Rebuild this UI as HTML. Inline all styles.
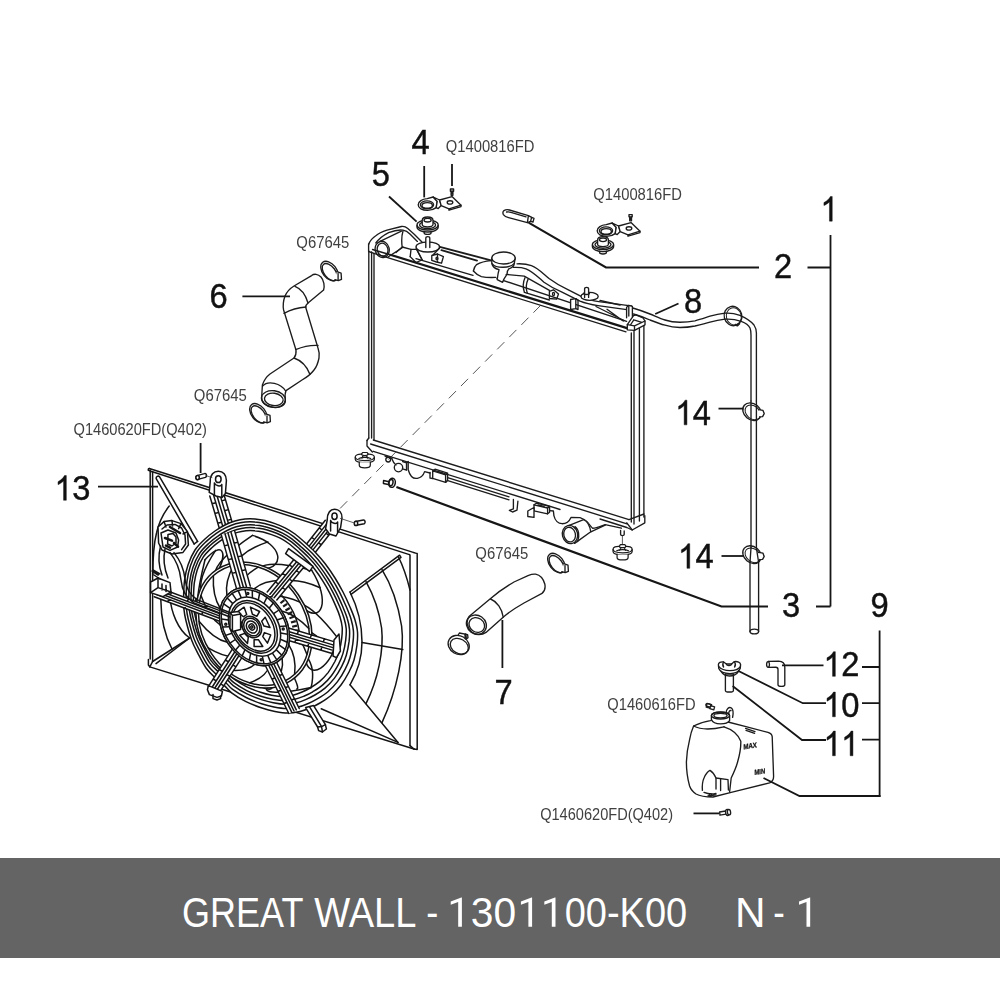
<!DOCTYPE html>
<html><head><meta charset="utf-8"><title>GREAT WALL - 1301100-K00</title>
<style>
html,body{margin:0;padding:0;background:#fff;}
body{width:1000px;height:1000px;position:relative;overflow:hidden;font-family:"Liberation Sans",sans-serif;}
#dia{position:absolute;left:0;top:0;width:1000px;height:858px;filter:grayscale(1);}
#bar{position:absolute;left:0;top:858px;width:1000px;height:100px;background:#646464;}
#bar span{position:absolute;top:0;height:100px;line-height:100px;color:#fff;font-size:41px;white-space:pre;transform-origin:0 50%;}
svg text{font-family:"Liberation Sans",sans-serif;}
.n{font-size:35.7px;fill:#111;stroke:#111;stroke-width:0.45;}
.q{font-size:16px;fill:#404040;}
.l{stroke:#161616;stroke-width:1.8;fill:none;stroke-linecap:butt;}
.p{stroke:#1c1c1c;stroke-width:1.35;fill:none;stroke-linejoin:round;stroke-linecap:round;}
.pw{stroke:#1c1c1c;stroke-width:1.35;fill:#fff;stroke-linejoin:round;stroke-linecap:round;}
.fan .p,.fan .pw{stroke-width:1.5;stroke:#141414;}
.t{stroke:#333;stroke-width:0.8;fill:none;stroke-linejoin:round;stroke-linecap:round;}
.k{stroke:#161616;stroke-width:2.3;fill:none;stroke-linejoin:round;stroke-linecap:round;}
</style></head>
<body>
<svg id="dia" width="1000" height="858" viewBox="0 0 1000 858">
<path d="M540.6 305.4L336.6 512" stroke="#555" stroke-width="1" stroke-dasharray="10.2 7" fill="none"/>

<!-- ===== RADIATOR ===== -->
<g class="p">
<!-- left frame -->
<path d="M368.8 251V438M371.6 252V438M374 254V440"/>
<path d="M368.6 243.8V251.5L374 253.4"/>
<!-- top frame lines -->
<path class="k" d="M391 255L627 328.2"/>
<path d="M374 253.4L626 331.8"/>
<path d="M372.5 249.5L391 255"/>
<path d="M497 278.4L626.6 321.4"/>
<path d="M416 258.6L473 275.4"/>
<!-- right frame -->
<path d="M631.3 333V522M634 331V524M639.4 328V521M643.9 324V517"/>
<!-- top-right corner block -->
<path class="pw" d="M627.3 324.6L633.5 315.6L636 314.8L643 318L645 321V324.8L634.5 330.4L627.3 329.8Z"/>
<path d="M627.3 324.6L634.5 325.8L645 321M634.5 325.8V330.4M633.8 319.8L641.8 322.4M633.8 319.8L630.4 325"/>
<!-- bottom frame -->
<path d="M373.3 440L629 519.6"/>
<path d="M370.6 444L627 523.8"/>
<path d="M373.3 451.3L560 509.5"/>
<path d="M367 440.5V446L372.4 452"/>
<path d="M368.8 438L367 440.5"/>
<!-- bottom-right corner block -->
<path d="M626.8 522.8L632.2 530L644.8 522.8V515.6"/>
<path d="M629 519.6L644 514"/>
<path d="M600 519L626.8 527.5L632.2 530"/>
</g>

<!-- ===== TOP TANK ===== -->
<g class="p">
<!-- left inlet housing outer contour -->
<path d="M368.6 244.6C370 240 372.5 238 375.8 235.8C379 233 383 231.5 387 230.2L401.4 226.5C404 226 406 227 407.8 228.6L414.2 234.2L422.2 242.2"/>
<path d="M375.8 243C379 238.5 384 235 388.6 232.6C394 230.6 399 229.6 403 230.2C406 230.6 408 232 410.2 234.2L417.4 241.4"/>
<!-- inlet pipe -->
<ellipse cx="382.2" cy="249.4" rx="7" ry="8.2" transform="rotate(-15 382.2 249.4)"/>
<ellipse cx="382.6" cy="249.6" rx="5.3" ry="6.5" transform="rotate(-15 382.6 249.6)"/>
<path d="M380 241.3L401.4 231.2M388 257L403 247.2"/>
<path d="M403 231C401.5 236 401.5 242 402.2 247L411 249.4L410.2 256.6"/>
<path d="M402.2 247L396 252.5M411 249.4L416.6 249.4L422.2 259.8"/>
<path d="M410.2 256.6L416 262.5L422.2 259.8"/>
<!-- left mounting pin & base -->
<path class="pw" d="M416 247a11.8 5 0 0 0 23.6 0a11.8 5 0 0 0 -23.6 0z"/>
<path class="pw" d="M425.8 247.5V238.2a2 1.6 0 0 1 4 0V247.5"/>
<path d="M416.3 248.5L421.5 258.8M439.4 248.2L433 255"/>
<!-- small bracket -->
<path d="M431.8 255.5L437.5 254L443.4 256.6L441.5 263.2L436.5 262L431.8 260.4Z"/>
<path d="M437.5 254V262M436 258.5a1 1.4 0 1 0 2 0a1 1.4 0 1 0 -2 0"/>
<!-- tank top back edges -->
<path stroke-width="1.9" d="M439.8 246.8L491 260.4M441.4 250.2L477 260.6"/>
<!-- bulge near filler -->
<path d="M473.4 271C474 268 475 266 476.6 264.6C481 262 486 261 491 260.6"/>
<path d="M473.4 271C476 274 478.5 275.6 481.4 276.6C486 277.6 491 277.6 495.8 277.4"/>
<!-- filler cap -->
<path class="pw" d="M491.8 258V263.5C492.5 266.5 495.5 268.8 499 269.7C498 273 497.6 276.5 497.2 279.6L502.6 282.3C503.5 279 505.5 276.5 507.1 274.2C507 272 507.5 270.3 508.9 268.8C512 267.6 514.3 265.6 514.3 263.4L515.2 258"/>
<ellipse class="pw" cx="503.5" cy="258" rx="11.7" ry="6"/>
<path d="M492.3 263.8C496 268.5 510 268.5 514.4 263.4"/>
<!-- tank cylinder between filler and right pin -->
<path d="M506.2 274.4L524.2 276.2L549.4 290.4"/>
<path d="M525 277.8C523 282 523 288 524.4 292.4M528 279.4C526 283.6 526 289.2 527.4 293.4"/>
<path d="M524.4 292.4L549.4 300"/>
<!-- bracket 2 -->
<path d="M549.4 291.3L553.5 289.8L558.5 294L556.6 299.2L549.4 298.5Z"/>
<path d="M552.5 294a1 1.6 0 1 0 2 0a1 1.6 0 1 0 -2 0"/>
<!-- overflow tube over the tank -->
<path class="pw" d="M513.4 267.4C518 267.2 522 267.4 526 268.8C533 271.6 538 277 544 282.3C550 286.6 556 289.6 562 292.2L580 301.2C586 303.6 592 304.8 598 305.7L625 309.3L632 310.2L631.5 306L625 305.2L598.8 301.6C593 300.7 588 299.6 583.6 297.6L567.4 289.3C561 286.5 555 283 549.4 278.8C543 273.6 538 268 531.4 265.6C526.5 263.8 521.5 263.6 517 263.8"/>
<!-- right mounting pin & base -->
<path class="pw" d="M581 296.4a8.6 4 0 0 0 17.2 0a8.6 4 0 0 0 -17.2 0z"/>
<path class="pw" d="M584.6 297.4V289a2 1.6 0 0 1 4 0V297.4"/>
<path d="M583.5 293.2a3 1.3 0 0 0 6 0"/>
<!-- tube clip -->
<path class="pw" d="M570.6 299.5L575.8 298.6V308.6L570.6 309.5Z"/>
<path d="M575.8 298.6L578 300V309.6L575.8 308.6"/>
<!-- gusset at right end -->
<path d="M596 306.5L624 320.5M607 309.3L623.2 321M600 300.5L620 305"/>
<!-- right end clip post -->
<path class="pw" d="M626.6 317.8V307.2L628.8 305.4L632.4 306.4V317"/>
<path d="M628.8 305.4V316"/>
</g>

<!-- ===== OVERFLOW TUBE (8) + CLAMPS (14) ===== -->
<g class="p">
<path d="M632.8 308C639 309.8 644.5 311.8 650 314C655 316 660 318.4 665 320C670 321.6 675 322.2 680 322.2C685 322.2 690 321.8 695 320.8C700 319.6 705 317.8 710 316.2C715 314.8 720 313.8 725 313.2C730 312.8 735 313.6 740 315.4C746 318 751 321.4 754 325C755.6 327.4 756.4 330 756.4 333V401"/>
<path d="M633.5 314C639 315.6 644.5 317.6 650 320C655 322 660 324 665 325.2C670 326.8 675 327.5 680 327.5C685 327.5 690 327 695 326C700 324.8 705 323.6 710 322.2C715 320.8 720 319.8 725 319.2C731 318.8 736 319.6 741.2 321.4C745 322.8 748.6 325 750 328C750.8 330 751 332 751 335V401"/>
<ellipse cx="733" cy="316" rx="8.8" ry="9.8" transform="rotate(-15 733 316)"/>
<ellipse cx="733.8" cy="316.4" rx="7.4" ry="8.6" transform="rotate(-15 733.8 316.4)" stroke-width="1"/>
<path d="M735.4 324.6L737.4 325.6L739.4 323.6" stroke-width="1.8"/>
<path d="M751 401V548M756.4 401V548"/>
<path d="M750 562V631.5M758.6 562V631.5"/>
<path d="M751 548L750 562M756.4 548L758.6 562"/>
<ellipse cx="754.3" cy="631.5" rx="4.3" ry="2.4"/>
<!-- clamp 14 upper (transparent ring) -->
<ellipse cx="752" cy="411.7" rx="10" ry="8" transform="rotate(40 752 411.7)"/>
<ellipse cx="752.8" cy="412.4" rx="8.6" ry="6.4" transform="rotate(40 752.8 412.4)" stroke-width="1"/>
<path class="pw" d="M758.6 409.6L763 410.4L764.2 413.6L762.6 416.6L759.6 416.8"/>
<!-- clamp 14 lower -->
<ellipse cx="752" cy="554.6" rx="10" ry="8" transform="rotate(40 752 554.6)"/>
<ellipse cx="752.8" cy="555.3" rx="8.6" ry="6.4" transform="rotate(40 752.8 555.3)" stroke-width="1"/>
<path class="pw" d="M758.6 552.4L763 553.2L764.2 556.4L762.6 559.4L759.6 559.6"/>
</g>

<!-- ===== BOTTOM TANK DETAILS ===== -->
<g class="p">
<circle cx="388.2" cy="459.6" r="2.4"/>
<path d="M385 456L392 458.5"/>
<circle cx="398.5" cy="467.6" r="4.2"/>
<path d="M392 459C393 462 394.5 464 396 465"/>
<path d="M402.6 461.5L406.5 462.8V470.2L402.6 468.8M406.5 462.8L408.2 461.5V469.5"/>
<path d="M408.4 470.2C410 476 413.5 479 417.4 478.3C421.5 477.6 423.6 474.6 424.6 471.6L430 473"/>
<!-- connector box 1 -->
<path class="pw" d="M432.7 470.8L445.6 474.8V482.4L432.7 478.4Z"/>
<path d="M432.7 470.8L435 469.2L447.6 473.2L445.6 474.8M447.6 473.2V480.6L445.6 482.4"/>
<path d="M430 472.5V478L432.7 478.6"/>
<path d="M437 471.4L442.6 473.2"/>
<!-- rails between -->
<path d="M447.6 477.6L509 496.8M447 480.4L509 499.8"/>
<!-- hook -->
<path class="pw" d="M513.4 499.4V508.8L509.4 510.4L512.5 512L517 510.2L517.9 501.2"/>
<!-- connector box 2 -->
<path class="pw" d="M534 504.8L547.6 508V513.8L534 510.8Z"/>
<path d="M534 504.8L536.4 503.2L549.6 506.4L547.6 508M549.6 506.4V512.2L547.6 513.8"/>
<path class="pw" d="M527.8 511L534 507.5V510.8L534 517.4L527.8 516.5Z"/>
<path d="M538 505L544 506.4"/>
<!-- wavy lower contour right -->
<path d="M549.6 510.6L553.4 511L553.9 515.6C555 520.5 558.4 523.6 562 523.7C566.5 523.7 569.6 520.6 571 517.4L580 517.6C583 518.6 585.6 520.2 587.2 522C589.4 524.4 591 527 592.6 528.2C597 528.2 601 526 605.2 524.6L621.4 528.2"/>
<!-- outlet pipe -->
<path class="pw" d="M568.6 525.6L583.6 519.6C587 521 589.6 524 590.8 531.8L574.6 543.4Z"/>
<ellipse class="pw" cx="570" cy="534.5" rx="7.6" ry="9.2" transform="rotate(-14 570 534.5)"/>
<ellipse cx="569.6" cy="534.6" rx="5.8" ry="7.4" transform="rotate(-14 569.6 534.6)"/>
<path d="M575 526.6C578.6 529 580 536 577.6 541.6"/>
<path d="M590.8 531.8L605.2 525.2"/>
<!-- right mount pin -->
<path d="M620.6 530.5V534.6a1.8 1 0 0 0 3.6 0V531"/>
<path class="t" d="M622.4 536V546"/>
</g>
<!-- ===== GROMMETS / MOUNTS ===== -->
<defs>
<g id="grom">
 <!-- flanged grommet with dome, centered at 0,0 -->
 <path class="pw" stroke-width="1.6" d="M-10.6 0a10.6 5 0 0 0 21.2 0a10.6 5 0 0 0 -21.2 0z"/>
 <path class="p" d="M-10.6 0.6V2a10.6 5 0 0 0 21.2 0V0.6"/>
 <ellipse class="p" cx="0" cy="0" rx="8" ry="3.6"/>
 <path class="pw" stroke-width="1.6" d="M-5.4 -0.4V-4.6C-5.4 -6.8 -3 -8 0 -8C3 -8 5.4 -6.8 5.4 -4.6V-0.4a5.4 2.4 0 0 1 -10.8 0z"/>
 <ellipse class="p" cx="0" cy="-4.8" rx="3.6" ry="1.8"/>
 <path class="p" d="M-3.4 6.6V8a3.4 1.4 0 0 0 6.8 0V6.6"/>
</g>
<g id="grom2">
 <!-- bottom grommet: cross-top cap + cup -->
 <path class="pw" d="M-10.4 -1.2C-10.4 -3.6 -7 -4.6 -3.6 -4.4L-2.4 -6.2H2.6L3.6 -4.4C7 -4.6 10.4 -3.6 10.4 -1.2C10.4 1.4 6 2.6 0 2.6C-6 2.6 -10.4 1.4 -10.4 -1.2Z"/>
 <path class="p" d="M-10.4 -0.8V1.2C-10.4 3.6 -6 4.8 0 4.8C6 4.8 10.4 3.6 10.4 1.2V-0.8"/>
 <path class="p" stroke-width="1.8" d="M-3.6 -4.4C-3.2 -2.4 3.2 -2.4 3.6 -4.4M-6.4 0.4C-3 -1.4 3 -1.4 6.4 0.4M-2 -2.6L-3 0M2 -2.6L3 0"/>
 <path class="pw" d="M-6 4.4V7.6C-6 9.6 -3 10.4 0 10.4C3 10.4 6 9.6 6 7.6V4.4"/>
</g>
<g id="brk">
 <!-- bracket (item 4): ring on left, bent plate on right. origin = ring center -->
 <path class="pw" stroke-width="1.6" d="M-9.4 0.8C-9.4 -2.6 -5.4 -5 -0.4 -5.4L5.6 -7L9.6 -2.6L8.6 3.6C6 5.6 3 6.4 0 6.4C-5.4 6.4 -9.4 4.2 -9.4 0.8Z"/>
 <ellipse class="p" stroke-width="1.6" cx="-0.6" cy="0.8" rx="6.6" ry="4"/>
 <ellipse class="p" cx="-0.4" cy="1.4" rx="5.2" ry="2.8"/>
 <path class="pw" d="M5.6 -7L12 -4L13.6 1.6L10.6 4.6L8.6 3.6L9.6 -2.6Z"/>
 <path class="pw" stroke-width="1.6" d="M12 -4L24.4 -7.4L33.4 1.2L21.4 4.8L13.6 1.6Z"/>
 <ellipse class="p" cx="22.4" cy="-1.6" rx="2.8" ry="1.7"/>
 <path class="p" d="M21.4 4.8V6.2L33.4 2.6V1.2"/>
</g>
<g id="bolt">
 <!-- tiny vertical bolt, origin = head top centre -->
 <path class="pw" d="M-1.6 0H1.6V2.2H-1.6Z"/>
 <path class="p" d="M-0.9 2.2V6.2H0.9V2.2M-0.9 3.4H0.9M-0.9 4.6H0.9"/>
</g>
</defs>
<use href="#grom" x="427.6" y="225"/>
<use href="#grom" x="603" y="244.6"/>
<g transform="translate(364.8 458.2) scale(.92)"><use href="#grom2"/></g>
<g transform="translate(622.6 550.4) scale(.92)"><use href="#grom2"/></g>
<use href="#brk" x="427.6" y="204"/>
<use href="#brk" x="606.6" y="230"/>
<use href="#bolt" x="452" y="189"/>
<use href="#bolt" x="630.6" y="214.6"/>
<!-- item 2: short hose piece -->
<g class="p" transform="translate(0 2)">
<path class="pw" d="M504 208.6C505.6 207.6 507.4 207.4 509.4 208L528.4 213.6L531.6 215.4L530.6 219.4L527.4 220.6L508.6 215.6C506 215 504.4 214 503.4 212.6C502.6 211 502.8 209.6 504 208.6Z"/>
<path d="M506.6 210C508 209.6 509.4 209.8 511 210.4L526 214.8"/>
<path d="M528.4 213.6L527.4 220.6M531.6 215.4L534 216.4L533 220L530.6 219.4"/>
</g>

<!-- ===== FAN SHROUD ===== -->
<g class="fan">
<g class="p">
<path d="M149.3 468.5L414 552.6M152.4 471.8L409.4 554.6"/>
<path d="M149.3 468.5C148.4 468.6 148 469.4 148.4 470.4L152.4 471.8"/>
<path d="M150.2 470V659M152.6 472V661.5"/>
<path d="M148.4 659.5V665L149.8 666.9L152.6 661.5"/>
<path d="M149.8 666.9L414 749M152.6 661.5L189.6 638"/>
<path d="M417.2 553.6V749.4M410 555V745.6M414 552.6L417.2 553.6M414 749L417.2 749.4M409.4 554.6L410 555"/>
<path d="M410 745.6L414 749"/>
<path d="M156.2 478.6L194.2 544M159.6 476.8L197.6 541.4M156.2 478.6a2 2 0 0 1 3.4 -1.8"/>
<path d="M194.2 544L197.6 541.4"/>
<path d="M169.2 506C163 514 158.5 524 156.5 533C153.5 545 152.8 560 152.8 575"/>
<path d="M160.8 599.6C161 618 165 636 172 649"/>
<path d="M170 597C171 612 178 630 189.6 638"/>
<path d="M156 663.6L189.6 638"/>
<path d="M350 592L399.6 555.2M351 594.4L401 557.4M399.6 555.2L401 557.4"/>
<path d="M350 592C357 606 362 624 362 642C362 658 357 673 350 684.8"/>
<path d="M350 684.8L398 742.4"/>
<path d="M321.2 708.8L398 742.4"/>
<path d="M366 581.6C373 594 379 610 381.6 628C384 650 378 680 366 703.6"/>
<path d="M382 569.6C391 584 398 604 401.6 626C405 652 397 690 382 722.6"/>
<path d="M398.5 557C403 566 407 578 410 590"/>
<path d="M362 642.4L402.8 649.6"/>
</g>
<path d="M221.3 535.0L209.8 496.0L223.2 492.0L234.7 531.0Z" fill="#fff" stroke="none"/><path class="p" d="M221.3 535.0L209.8 496.0M225.0 533.9L213.5 494.9M228.0 533.0L216.5 494.0M231.0 532.1L219.5 493.1M234.7 531.0L223.2 492.0M217.8 523.3L221.6 522.2M227.5 520.4L231.3 519.3M215.0 513.5L218.7 512.4M224.6 510.7L228.4 509.6M212.1 503.8L215.8 502.7M221.8 500.9L225.5 499.8"/>
<path d="M295.3 558.3L325.3 520.3L334.7 527.7L304.7 565.7Z" fill="#fff" stroke="none"/><path class="p" d="M295.3 558.3L325.3 520.3M297.9 560.4L327.9 522.4M300.0 562.0L330.0 524.0M302.1 563.6L332.1 525.6M304.7 565.7L334.7 527.7M304.3 546.9L306.9 549.0M311.1 552.2L313.7 554.3M311.8 537.4L314.4 539.5M318.6 542.7L321.2 544.8M319.3 527.9L321.9 530.0M326.1 533.2L328.7 535.3"/>
<path class="pw" d="M183.6 597.0C183.7 592.3 183.9 585.3 184.6 580.0C185.3 574.7 186.3 570.0 188.0 565.0C189.7 560.0 192.2 554.3 195.0 550.0C197.8 545.7 201.7 542.2 205.0 539.0C208.3 535.8 211.7 533.3 215.0 531.0C218.3 528.7 221.7 526.7 225.0 525.0C228.3 523.3 231.7 522.0 235.0 521.0C238.3 520.0 241.7 519.3 245.0 519.0C248.3 518.7 251.7 518.7 255.0 519.0C258.3 519.3 261.7 519.8 265.0 520.6C268.3 521.4 271.7 522.4 275.0 523.6C278.3 524.8 281.7 526.1 285.0 527.8C288.3 529.5 291.7 531.5 295.0 534.0C298.3 536.5 301.7 539.5 305.0 542.5C308.3 545.5 311.7 548.5 315.0 552.0C318.3 555.5 321.7 559.2 325.0 563.5C328.3 567.8 332.0 573.2 335.0 578.0C338.0 582.8 340.5 587.2 343.0 592.0C345.5 596.8 348.0 602.3 350.0 607.0C352.0 611.7 353.8 615.8 355.0 620.0C356.2 624.2 357.2 627.8 357.5 632.0C357.8 636.2 357.6 640.3 357.0 645.0C356.4 649.7 355.3 655.5 354.0 660.0C352.7 664.5 351.2 667.8 349.0 672.0C346.8 676.2 344.0 681.1 341.0 685.0C338.0 688.9 334.5 692.5 331.0 695.5C327.5 698.5 323.5 700.9 320.0 703.0C316.5 705.1 313.3 706.6 310.0 708.0C306.7 709.4 303.7 710.6 300.0 711.4C296.3 712.2 292.2 713.0 288.0 713.0C283.8 713.0 279.3 712.2 275.0 711.4C270.7 710.6 266.8 709.6 262.0 708.0C257.2 706.4 251.1 704.1 246.0 701.6C240.9 699.1 235.2 695.5 231.6 692.8C228.0 690.1 227.2 688.1 224.4 685.6C221.6 683.1 218.1 680.4 215.0 677.5C211.9 674.6 208.8 672.0 206.0 668.0C203.2 664.0 200.4 658.3 198.0 653.6C195.6 648.9 193.6 645.6 191.6 640.0C189.6 634.4 187.1 625.3 185.8 620.0C184.5 614.7 184.2 611.8 183.8 608.0C183.4 604.2 183.5 601.7 183.6 597.0Z" />
<path class="p" d="M186.1 596.9C186.2 592.4 186.4 585.7 187.1 580.6C187.8 575.4 188.7 570.9 190.4 566.1C192.0 561.3 194.4 555.9 197.1 551.7C199.8 547.5 203.5 544.2 206.7 541.1C209.9 538.1 213.1 535.7 216.3 533.4C219.5 531.2 222.7 529.3 225.9 527.7C229.2 526.1 232.4 524.8 235.6 523.8C238.8 522.8 242.0 522.2 245.2 521.9C248.4 521.6 251.6 521.6 254.8 521.9C258.0 522.1 261.2 522.7 264.4 523.4C267.6 524.2 270.8 525.2 274.0 526.3C277.3 527.5 280.5 528.7 283.7 530.4C286.9 532.0 290.1 534.0 293.3 536.3C296.5 538.7 299.7 541.6 302.9 544.5C306.1 547.4 309.3 550.3 312.5 553.6C315.7 557.0 318.9 560.5 322.1 564.7C325.4 568.9 328.9 574.1 331.8 578.6C334.7 583.2 337.1 587.5 339.5 592.1C341.9 596.8 344.3 602.1 346.2 606.5C348.1 611.0 349.8 615.0 351.0 619.0C352.2 623.1 353.1 626.6 353.4 630.6C353.7 634.6 353.5 638.6 352.9 643.1C352.4 647.6 351.3 653.2 350.0 657.5C348.8 661.9 347.3 665.1 345.2 669.1C343.2 673.1 340.4 677.8 337.5 681.6C334.7 685.3 331.3 688.8 327.9 691.7C324.6 694.6 320.7 696.9 317.3 698.9C314.0 700.9 310.9 702.4 307.7 703.7C304.5 705.1 301.6 706.2 298.1 707.0C294.6 707.8 290.6 708.5 286.6 708.5C282.5 708.5 278.2 707.8 274.0 707.0C269.9 706.2 266.2 705.3 261.5 703.7C256.9 702.1 251.0 700.0 246.1 697.5C241.3 695.1 235.8 691.6 232.3 689.1C228.8 686.5 228.0 684.6 225.4 682.2C222.7 679.7 219.3 677.2 216.3 674.4C213.4 671.5 210.4 669.1 207.7 665.2C204.9 661.4 202.3 655.9 200.0 651.4C197.7 646.9 195.8 643.7 193.8 638.3C191.9 632.9 189.5 624.2 188.2 619.0C187.0 613.9 186.7 611.2 186.3 607.5C186.0 603.8 186.0 601.4 186.1 596.9Z" />
<path class="p" d="M188.8 597.0C189.0 592.7 189.1 586.3 189.8 581.3C190.4 576.4 191.3 572.1 192.9 567.5C194.5 562.9 196.8 557.6 199.4 553.6C202.0 549.6 205.5 546.4 208.6 543.5C211.7 540.5 214.8 538.2 217.9 536.1C220.9 533.9 224.0 532.1 227.1 530.5C230.2 529.0 233.3 527.7 236.3 526.8C239.4 525.9 242.5 525.3 245.6 525.0C248.7 524.7 251.7 524.7 254.8 525.0C257.9 525.2 261.0 525.7 264.1 526.5C267.1 527.2 270.2 528.1 273.3 529.2C276.4 530.3 279.5 531.5 282.5 533.1C285.6 534.7 288.7 536.6 291.8 538.8C294.9 541.1 297.9 543.9 301.0 546.7C304.1 549.5 307.2 552.2 310.3 555.5C313.3 558.7 316.4 562.1 319.5 566.1C322.6 570.1 326.0 575.1 328.7 579.5C331.5 583.9 333.8 588.0 336.1 592.4C338.4 596.9 340.7 602.0 342.6 606.3C344.4 610.6 346.1 614.4 347.2 618.3C348.4 622.1 349.2 625.5 349.5 629.4C349.8 633.2 349.6 637.1 349.1 641.4C348.5 645.7 347.5 651.1 346.3 655.3C345.1 659.4 343.7 662.5 341.7 666.3C339.7 670.2 337.1 674.7 334.3 678.4C331.5 682.0 328.3 685.3 325.0 688.1C321.8 690.8 318.1 693.1 314.9 695.0C311.6 696.9 308.7 698.3 305.6 699.6C302.6 700.9 299.8 702.0 296.4 702.7C293.0 703.5 289.2 704.2 285.3 704.2C281.5 704.2 277.3 703.5 273.3 702.7C269.3 702.0 265.8 701.1 261.3 699.6C256.8 698.1 251.2 696.0 246.5 693.7C241.8 691.4 236.5 688.0 233.2 685.6C229.9 683.1 229.1 681.3 226.5 678.9C224.0 676.6 220.7 674.1 217.9 671.4C215.0 668.7 212.2 666.3 209.5 662.6C206.9 659.0 204.4 653.7 202.1 649.3C199.9 645.0 198.1 642.0 196.2 636.8C194.4 631.6 192.1 623.2 190.9 618.3C189.7 613.4 189.4 610.8 189.0 607.2C188.7 603.7 188.7 601.4 188.8 597.0Z" />
<path class="p" d="M191.0 597.3C191.2 593.1 191.3 586.8 191.9 582.1C192.6 577.3 193.4 573.2 195.0 568.7C196.5 564.2 198.7 559.2 201.2 555.3C203.7 551.5 207.2 548.3 210.1 545.5C213.1 542.7 216.1 540.5 219.0 538.4C222.0 536.3 225.0 534.5 228.0 533.0C230.9 531.5 233.9 530.4 236.9 529.5C239.9 528.6 242.8 528.0 245.8 527.7C248.8 527.4 251.8 527.4 254.7 527.7C257.7 527.9 260.7 528.4 263.6 529.1C266.6 529.8 269.6 530.7 272.6 531.8C275.5 532.8 278.5 534.0 281.5 535.5C284.5 537.1 287.4 538.9 290.4 541.1C293.4 543.2 296.4 546.0 299.3 548.6C302.3 551.3 305.3 554.0 308.2 557.1C311.2 560.2 314.2 563.5 317.2 567.4C320.1 571.2 323.4 576.1 326.1 580.3C328.8 584.5 331.0 588.5 333.2 592.8C335.5 597.1 337.7 602.0 339.5 606.2C341.3 610.3 342.8 614.1 343.9 617.8C345.0 621.5 345.9 624.8 346.2 628.5C346.5 632.2 346.2 635.9 345.7 640.1C345.2 644.2 344.2 649.4 343.0 653.4C341.8 657.5 340.5 660.4 338.6 664.2C336.6 667.9 334.1 672.3 331.4 675.7C328.8 679.2 325.6 682.4 322.5 685.1C319.4 687.8 315.8 689.9 312.7 691.8C309.6 693.7 306.8 695.0 303.8 696.3C300.8 697.5 298.1 698.6 294.9 699.3C291.6 700.0 287.9 700.7 284.2 700.7C280.4 700.7 276.4 700.0 272.6 699.3C268.7 698.6 265.3 697.7 261.0 696.3C256.7 694.8 251.2 692.8 246.7 690.6C242.2 688.3 237.1 685.1 233.9 682.7C230.6 680.3 229.9 678.6 227.4 676.3C225.0 674.0 221.8 671.7 219.0 669.1C216.3 666.4 213.5 664.1 211.0 660.6C208.5 657.0 206.0 651.9 203.9 647.7C201.7 643.6 200.0 640.6 198.2 635.6C196.4 630.6 194.2 622.5 193.0 617.8C191.8 613.0 191.5 610.5 191.2 607.1C190.9 603.6 190.9 601.4 191.0 597.3Z" stroke-width="1"/>
<path class="p" d="M193.5 597.4C193.6 593.4 193.7 587.4 194.3 582.8C195.0 578.3 195.8 574.3 197.2 570.0C198.7 565.7 200.8 560.9 203.2 557.2C205.6 553.5 208.9 550.5 211.8 547.8C214.6 545.1 217.5 542.9 220.3 540.9C223.2 538.9 226.0 537.2 228.9 535.8C231.7 534.4 234.6 533.2 237.4 532.4C240.3 531.5 243.1 531.0 246.0 530.7C248.8 530.4 251.7 530.4 254.5 530.7C257.4 530.9 260.2 531.4 263.1 532.0C265.9 532.7 268.8 533.6 271.6 534.6C274.5 535.6 277.3 536.7 280.2 538.2C283.0 539.7 285.9 541.4 288.7 543.5C291.6 545.6 294.4 548.2 297.3 550.8C300.1 553.3 303.0 555.9 305.8 558.9C308.7 561.9 311.5 565.0 314.4 568.7C317.2 572.4 320.4 577.0 322.9 581.1C325.5 585.2 327.6 588.9 329.8 593.1C331.9 597.2 334.0 601.9 335.7 605.9C337.5 609.9 339.0 613.5 340.0 617.0C341.1 620.6 341.9 623.7 342.2 627.3C342.4 630.8 342.2 634.4 341.7 638.4C341.2 642.4 340.3 647.4 339.2 651.2C338.0 655.1 336.7 657.9 334.9 661.5C333.0 665.0 330.6 669.2 328.1 672.6C325.5 675.9 322.5 679.0 319.5 681.6C316.5 684.1 313.1 686.2 310.1 688.0C307.1 689.8 304.4 691.1 301.5 692.3C298.7 693.5 296.1 694.5 293.0 695.2C289.9 695.9 286.3 696.5 282.7 696.5C279.2 696.5 275.3 695.9 271.6 695.2C267.9 694.5 264.6 693.7 260.5 692.3C256.4 690.9 251.2 689.0 246.8 686.8C242.5 684.6 237.6 681.5 234.5 679.3C231.4 677.0 230.7 675.3 228.4 673.1C226.0 670.9 222.9 668.7 220.3 666.2C217.7 663.7 215.0 661.5 212.6 658.1C210.2 654.7 207.8 649.7 205.8 645.7C203.7 641.8 202.1 638.9 200.3 634.1C198.6 629.3 196.5 621.6 195.4 617.0C194.2 612.5 194.0 610.0 193.6 606.8C193.3 603.5 193.4 601.3 193.5 597.4Z" stroke-width="2"/>
<g class="p">
<path d="M300.9 604.1Q313.8 607.4 337.6 637.9"/>
<path d="M337.6 637.9C332.0 667.6 308.9 681.6 305.3 658.8"/>
<path d="M309.0 630.8Q323.1 639.3 332.9 653.2"/>
<path d="M306.3 656.2Q315.8 667.6 311.1 687.6"/>
<path d="M311.1 687.6C284.4 693.5 257.2 694.8 269.6 685.1"/>
<path d="M293.2 675.5Q299.8 689.2 296.7 689.1"/>
<path d="M272.4 684.7Q273.5 694.9 252.0 681.7"/>
<path d="M252.0 681.7C224.3 659.5 205.4 654.7 222.2 666.1"/>
<path d="M247.8 682.2Q244.2 690.1 238.6 668.4"/>
<path d="M224.6 668.3Q218.8 668.8 204.8 624.8"/>
<path d="M204.8 624.8C197.0 591.2 192.5 591.5 198.7 616.1"/>
<path d="M207.1 645.8Q198.3 641.2 202.6 606.6"/>
<path d="M199.0 619.3Q192.9 609.0 205.0 559.7"/>
<path d="M205.0 559.7C223.0 539.9 228.1 552.8 216.9 572.9"/>
<path d="M201.7 593.8Q196.6 579.3 215.6 550.3"/>
<path d="M214.8 574.5Q215.2 560.5 252.5 535.4"/>
<path d="M252.5 535.4C282.7 544.4 285.5 567.7 263.0 568.9"/>
<path d="M235.7 565.3Q240.3 551.2 268.0 541.9"/>
<path d="M260.1 567.8Q269.1 559.8 311.6 570.2"/>
<path d="M311.6 570.2C331.2 601.2 321.4 625.0 302.3 607.1"/>
<path d="M283.4 581.7Q296.7 577.8 320.2 587.7"/>
</g>
<ellipse class="pw" cx="254.0" cy="625.0" rx="53.7" ry="66.7" transform="rotate(-34 254.0 625.0)" />
<ellipse class="p" cx="254.0" cy="625.0" rx="51.2" ry="64.0" transform="rotate(-34 254.0 625.0)" />
<g class="p">
<path d="M281.6 610.9Q295.3 614.1 308.8 628.6"/>
<path d="M288.5 628.0Q300.6 636.5 306.9 654.3"/>
<path d="M288.7 644.7Q296.7 657.1 294.6 674.2"/>
<path d="M282.1 657.9Q284.4 671.6 274.3 684.4"/>
<path d="M270.0 664.9Q266.2 677.1 249.9 682.8"/>
<path d="M254.9 664.3Q245.7 672.7 226.3 669.8"/>
<path d="M239.6 656.2Q227.0 659.2 208.2 647.9"/>
<path d="M227.4 642.3Q213.7 639.1 199.2 621.4"/>
<path d="M220.5 625.2Q208.4 616.7 201.1 595.7"/>
<path d="M220.3 608.5Q212.3 596.1 213.4 575.8"/>
<path d="M226.9 595.3Q224.6 581.6 233.7 565.6"/>
<path d="M239.0 588.3Q242.8 576.1 258.1 567.2"/>
<path d="M254.1 588.9Q263.3 580.5 281.7 580.2"/>
<path d="M269.4 597.0Q282.0 594.0 299.8 602.1"/>
</g>
<path d="M281.7 600.8A36.5 48 -34 0 1 295.9 639.6" stroke="#1a1a1a" stroke-width="5" stroke-dasharray="2.2 2.4" fill="none"/>
<path class="p" d="M281.9 595.8A40 52 -34 0 1 299.3 643.7"/>
<ellipse class="pw" cx="254.5" cy="626.6" rx="31.3" ry="42.0" transform="rotate(-34 254.5 626.6)" />
<ellipse class="p" cx="254.5" cy="626.6" rx="29.6" ry="40.0" transform="rotate(-34 254.5 626.6)" />
<g class="p">
<path d="M273.6 613.7L279.0 610.0"/>
<path d="M277.1 620.0L283.4 617.8"/>
<path d="M279.4 626.5L286.3 626.1"/>
<path d="M280.6 633.1L287.6 634.3"/>
<path d="M280.4 639.3L287.3 642.2"/>
<path d="M278.9 644.9L285.3 649.3"/>
<path d="M276.2 649.6L281.8 655.2"/>
<path d="M272.4 653.1L276.9 659.8"/>
<path d="M267.7 655.3L270.8 662.6"/>
<path d="M262.3 656.1L264.0 663.7"/>
<path d="M256.6 655.4L256.7 662.8"/>
<path d="M250.7 653.2L249.3 660.2"/>
<path d="M245.1 649.7L242.1 655.9"/>
<path d="M239.9 645.0L235.6 650.1"/>
<path d="M235.4 639.5L230.0 643.2"/>
<path d="M231.9 633.2L225.6 635.4"/>
<path d="M229.6 626.7L222.7 627.1"/>
<path d="M228.4 620.1L221.4 618.9"/>
<path d="M228.6 613.9L221.7 611.0"/>
<path d="M230.1 608.3L223.7 603.9"/>
<path d="M232.8 603.6L227.2 598.0"/>
<path d="M236.6 600.1L232.1 593.4"/>
<path d="M241.3 597.9L238.2 590.6"/>
<path d="M246.7 597.1L245.0 589.5"/>
<path d="M252.4 597.8L252.3 590.4"/>
<path d="M258.3 600.0L259.7 593.0"/>
<path d="M263.9 603.5L266.9 597.3"/>
<path d="M269.1 608.2L273.4 603.1"/>
</g>
<ellipse class="pw" cx="254.5" cy="626.6" rx="23.0" ry="32.0" transform="rotate(-34 254.5 626.6)" />
<ellipse class="p" cx="254.1" cy="626.8" rx="20.4" ry="28.6" transform="rotate(-34 254.1 626.8)" stroke-width="1.8"/>
<ellipse class="p" cx="253.7" cy="626.9" rx="18.4" ry="26.4" transform="rotate(-34 253.7 626.9)" />
<g class="p">
<path d="M261.7 621.3L264.0 626.1L270.0 627.5L265.2 617.3Z"/>
<path d="M264.4 632.6L262.8 636.6L267.5 643.1L270.7 634.9Z"/>
<path d="M258.4 639.7L254.1 639.8L254.1 646.6L262.8 646.5Z"/>
<path d="M248.3 637.2L244.6 633.4L239.7 635.3L247.5 643.4Z"/>
<path d="M241.6 627.0L241.3 622.2L235.3 617.8L236.2 628.0Z"/>
<path d="M243.4 616.8L246.7 614.5L244.1 607.2L237.5 611.8Z"/>
<path d="M252.4 614.3L256.8 616.3L259.6 611.5L250.4 607.1Z"/>
<circle cx="225.8" cy="624.3" r="1"/>
<circle cx="247.8" cy="593.5" r="1"/>
<circle cx="283.2" cy="628.9" r="1"/>
<circle cx="261.2" cy="659.7" r="1"/>
</g>
<ellipse class="pw" cx="251.8" cy="627.0" rx="9.0" ry="11.4" transform="rotate(-34 251.8 627.0)" stroke-width="1.7"/>
<ellipse class="p" cx="251.8" cy="627.0" rx="7.4" ry="9.4" transform="rotate(-34 251.8 627.0)" />
<ellipse class="p" cx="251.8" cy="627.0" rx="5.0" ry="6.4" transform="rotate(-34 251.8 627.0)" stroke-width="1.7"/>
<ellipse class="p" cx="251.8" cy="627.0" rx="2.6" ry="3.2" transform="rotate(-34 251.8 627.0)" />
<ellipse class="p" cx="251.8" cy="627.0" rx="1.0" ry="1.2" transform="rotate(-34 251.8 627.0)" />
<path d="M236.9 589.9L221.3 534.9L234.7 531.1L250.3 586.1Z" fill="#fff" stroke="none"/><path class="p" d="M236.9 589.9L221.3 534.9M240.6 588.8L225.0 533.8M243.6 588.0L228.0 533.0M246.6 587.2L231.0 532.2M250.3 586.1L234.7 531.1M232.2 573.4L236.0 572.3M241.9 570.7L245.7 569.6M228.3 559.7L232.1 558.6M238.0 556.9L241.8 555.8M224.4 545.9L228.2 544.8M234.1 543.2L237.9 542.1"/>
<path d="M267.2 592.0L295.2 558.0L304.8 566.0L276.8 600.0Z" fill="#fff" stroke="none"/><path class="p" d="M267.2 592.0L295.2 558.0M269.9 594.3L297.9 560.3M272.0 596.0L300.0 562.0M274.1 597.7L302.1 563.7M276.8 600.0L304.8 566.0M275.6 581.8L278.3 584.1M282.5 587.5L285.2 589.8M282.6 573.3L285.3 575.6M289.5 579.0L292.2 581.3M289.6 564.8L292.3 567.1M296.5 570.5L299.2 572.8"/>
<path d="M282.7 626.3L334.7 641.9L331.3 653.3L279.3 637.7Z" fill="#fff" stroke="none"/><path class="p" d="M282.7 626.3L334.7 641.9M281.8 629.5L333.8 645.1M281.0 632.0L333.0 647.6M280.2 634.5L332.2 650.1M279.3 637.7L331.3 653.3M298.3 630.9L297.4 634.2M295.8 639.2L294.9 642.4M311.3 634.8L310.4 638.1M308.8 643.1L307.9 646.3M324.3 638.7L323.4 642.0M321.8 647.0L320.9 650.2"/>
<path d="M275.2 659.5L299.2 708.5L288.8 713.5L264.8 664.5Z" fill="#fff" stroke="none"/><path class="p" d="M275.2 659.5L299.2 708.5M272.3 660.9L296.3 709.9M270.0 662.0L294.0 711.0M267.7 663.1L291.7 712.1M264.8 664.5L288.8 713.5M282.4 674.2L279.5 675.6M274.9 677.8L272.0 679.2M288.4 686.4L285.5 687.8M280.9 690.1L278.0 691.5M294.4 698.7L291.5 700.1M286.9 702.3L284.0 703.7"/>
<path d="M243.3 655.4L218.9 693.4L208.3 686.6L232.7 648.6Z" fill="#fff" stroke="none"/><path class="p" d="M243.3 655.4L218.9 693.4M240.3 653.5L215.9 691.5M238.0 652.0L213.6 690.0M235.7 650.5L211.3 688.5M232.7 648.6L208.3 686.6M235.9 666.8L233.0 664.9M228.4 661.9L225.4 660.0M229.8 676.3L226.9 674.4M222.3 671.4L219.3 669.5M223.7 685.8L220.8 683.9M216.2 680.9L213.2 679.0"/>
<path d="M222.2 622.3L154.2 596.7L157.8 587.3L225.8 612.9Z" fill="#fff" stroke="none"/><path class="p" d="M222.2 622.3L154.2 596.7M223.2 619.7L155.2 594.1M224.0 617.6L156.0 592.0M224.8 615.5L156.8 589.9M225.8 612.9L157.8 587.3M201.8 614.6L202.8 612.0M204.4 607.9L205.4 605.2M184.8 608.2L185.8 605.6M187.4 601.5L188.4 598.8M167.8 601.8L168.8 599.2M170.4 595.1L171.4 592.4"/>
<g class="p">
<path class="pw" d="M288.6 548.6L313 566.4L309.6 571.4L285.6 553.6Z"/>
<path class="pw" d="M334 640L339 634L340.4 651L336.4 657.6L333 656Z"/>
</g>
<ellipse class="pw" cx="254.5" cy="626.6" rx="31.3" ry="42.0" transform="rotate(-34 254.5 626.6)" />
<ellipse class="p" cx="254.5" cy="626.6" rx="29.6" ry="40.0" transform="rotate(-34 254.5 626.6)" />
<g class="p">
<path d="M273.6 613.7L279.0 610.0"/>
<path d="M277.1 620.0L283.4 617.8"/>
<path d="M279.4 626.5L286.3 626.1"/>
<path d="M280.6 633.1L287.6 634.3"/>
<path d="M280.4 639.3L287.3 642.2"/>
<path d="M278.9 644.9L285.3 649.3"/>
<path d="M276.2 649.6L281.8 655.2"/>
<path d="M272.4 653.1L276.9 659.8"/>
<path d="M267.7 655.3L270.8 662.6"/>
<path d="M262.3 656.1L264.0 663.7"/>
<path d="M256.6 655.4L256.7 662.8"/>
<path d="M250.7 653.2L249.3 660.2"/>
<path d="M245.1 649.7L242.1 655.9"/>
<path d="M239.9 645.0L235.6 650.1"/>
<path d="M235.4 639.5L230.0 643.2"/>
<path d="M231.9 633.2L225.6 635.4"/>
<path d="M229.6 626.7L222.7 627.1"/>
<path d="M228.4 620.1L221.4 618.9"/>
<path d="M228.6 613.9L221.7 611.0"/>
<path d="M230.1 608.3L223.7 603.9"/>
<path d="M232.8 603.6L227.2 598.0"/>
<path d="M236.6 600.1L232.1 593.4"/>
<path d="M241.3 597.9L238.2 590.6"/>
<path d="M246.7 597.1L245.0 589.5"/>
<path d="M252.4 597.8L252.3 590.4"/>
<path d="M258.3 600.0L259.7 593.0"/>
<path d="M263.9 603.5L266.9 597.3"/>
<path d="M269.1 608.2L273.4 603.1"/>
</g>
<ellipse class="pw" cx="254.5" cy="626.6" rx="23.0" ry="32.0" transform="rotate(-34 254.5 626.6)" />
<ellipse class="p" cx="254.1" cy="626.8" rx="20.4" ry="28.6" transform="rotate(-34 254.1 626.8)" stroke-width="1.8"/>
<ellipse class="p" cx="253.7" cy="626.9" rx="18.4" ry="26.4" transform="rotate(-34 253.7 626.9)" />
<g class="p">
<path d="M261.7 621.3L264.0 626.1L270.0 627.5L265.2 617.3Z"/>
<path d="M264.4 632.6L262.8 636.6L267.5 643.1L270.7 634.9Z"/>
<path d="M258.4 639.7L254.1 639.8L254.1 646.6L262.8 646.5Z"/>
<path d="M248.3 637.2L244.6 633.4L239.7 635.3L247.5 643.4Z"/>
<path d="M241.6 627.0L241.3 622.2L235.3 617.8L236.2 628.0Z"/>
<path d="M243.4 616.8L246.7 614.5L244.1 607.2L237.5 611.8Z"/>
<path d="M252.4 614.3L256.8 616.3L259.6 611.5L250.4 607.1Z"/>
<circle cx="225.8" cy="624.3" r="1"/>
<circle cx="247.8" cy="593.5" r="1"/>
<circle cx="283.2" cy="628.9" r="1"/>
<circle cx="261.2" cy="659.7" r="1"/>
</g>
<ellipse class="pw" cx="251.8" cy="627.0" rx="9.0" ry="11.4" transform="rotate(-34 251.8 627.0)" stroke-width="1.7"/>
<ellipse class="p" cx="251.8" cy="627.0" rx="7.4" ry="9.4" transform="rotate(-34 251.8 627.0)" />
<ellipse class="p" cx="251.8" cy="627.0" rx="5.0" ry="6.4" transform="rotate(-34 251.8 627.0)" stroke-width="1.7"/>
<ellipse class="p" cx="251.8" cy="627.0" rx="2.6" ry="3.2" transform="rotate(-34 251.8 627.0)" />
<ellipse class="p" cx="251.8" cy="627.0" rx="1.0" ry="1.2" transform="rotate(-34 251.8 627.0)" />
<g class="p">
<path class="pw" d="M230 612.6L238.6 611.4L240.6 614V629.6L232.4 631.4L230 628.6Z"/>
<path d="M230 612.6L232.4 615.4V631.4M232.4 615.4L240.6 614"/>
</g>
<g class="p">
<path class="pw" stroke-width="1.6" d="M210.2 482C210 474.5 213.8 471.2 218.4 471.2C223.2 471.2 226.4 475 226.4 480.6L225.4 493.5L222 497.5L216 496L209.2 492.4Z"/>
<ellipse cx="218.3" cy="479.2" rx="2.8" ry="3.4"/>
<path d="M214.4 483V495.6M221.8 484.6V497.2M214.4 483C215.4 486 220.6 487 221.8 484.6"/>
<path class="pw" stroke-width="1.6" d="M327.2 520C327 513 330.4 509.2 334.6 509.2C339 509.2 342 512.6 342 518L340.6 527.5L336 536L329.4 534L325.6 528.6Z"/>
<ellipse cx="334.5" cy="516.2" rx="2.6" ry="3.2"/>
<path d="M330.6 520.5V531M337.6 522V532.4M330.6 520.5C331.6 523.6 336.6 524.4 337.6 522"/>
<path class="pw" d="M208.4 685.6L222.4 691.4L221.4 696L217 697.4L209.4 694.6L207.4 689.6Z"/>
<path d="M213 694.6V698.6L217 700L220.6 698.6V696"/>
<path class="pw" d="M305.6 707.6L313.6 705.6L325.4 724.6L326.4 729L322.4 732L318.6 730.6L317.6 727Z"/>
<path d="M309.6 706.8L321.6 726.6M321.6 726.6L322.4 732M317.6 727L321.6 726.6L325.4 724.6"/>
</g>
<g class="p">
<path class="pw" d="M197 475.6L204.4 473.6a1.6 2 0 0 1 1 3.8L198 479.4a1.6 2 0 0 1 -1 -3.8z"/>
<ellipse class="pw" cx="197.6" cy="477.6" rx="1.7" ry="2.1"/>
<path class="t" d="M206 475.6L212 477.6"/>
<path class="pw" d="M355.6 521.4L363.4 520a1.6 2 0 0 1 .8 3.8L356.4 525.2a1.6 2 0 0 1 -.8 -3.8z"/>
<ellipse class="pw" cx="356" cy="523.4" rx="1.7" ry="2.1"/>
<path class="t" d="M340.4 518.4L354.4 523"/>
<path class="pw" stroke-width="1.8" d="M383.6 480.6L390 482L389.6 484.8L383.4 483.4Z"/>
<ellipse class="pw" stroke-width="1.9" cx="392" cy="482.8" rx="3.3" ry="4.6" transform="rotate(10 392 482.8)"/>
<ellipse cx="391" cy="482.6" rx="2" ry="3.2" transform="rotate(10 391 482.6)"/>
</g>
<g class="p">
<path class="pw" stroke-width="1.7" d="M158 527L164 521.6L172 520.6L181 523.6L187.4 531.6L188.4 545L183 552.4L172 554L162 550L158.6 543Z"/>
<path stroke-width="1.5" d="M162 529L167 525L175 524.4L181.6 528L185 535L185.6 544L181.6 549.6M164 521.6L166 527M172 520.6L172.6 526M181 523.6L178.6 528.6M187.4 531.6L183 534"/>
<path stroke-width="1.5" d="M161 533L168 530L176 533L178.6 540L177.6 547L170 550.4L163 547Z"/>
<path stroke-width="2.6" d="M170 527L180 533M165 538L172 540.6M174 543L178 546.6M166 545.6L170 547.6"/>
<path stroke-width="1.5" d="M168 534.6L173 533.6L176 537V543L172 546L167.6 544Z"/>
<path d="M160.6 546C158 556 158.6 566 162 575M165 549C163 558 164 568 168 578"/>
<path d="M170 552.6C176 560 180 570 181 580C182 590 186 598 194 603L230 617"/>
<path d="M174 552.6C180 560 184 570 185 579C186 588 190 595 197 599.6L231 613"/>
<path class="pw" stroke-width="1.6" d="M150.6 582L158 578L170 582.6L171 592L163 596.6L150.6 592.6Z"/>
<path d="M158 578V587.6L150.6 592.6M158 587.6L171 592M162 584V590M166 585.4V591.4"/>
<path d="M154 575L160 579M153 570L160 574"/>
<path class="k" d="M152.6 571L158 574.6"/>
</g>
</g>

<!-- ===== HOSE 6 ===== -->
<defs>
<g id="clamp">
 <!-- hose clamp ring, origin = centre -->
 <ellipse class="pw" cx="0" cy="0" rx="11" ry="7" transform="rotate(52)"/>
 <ellipse class="p" cx="1.1" cy="0.5" rx="10" ry="5.6" transform="rotate(52)"/>
 <path class="pw" stroke-width="1.8" d="M7.4 0.6L11.6 2.2L12 8.4L8.8 9.6L5.4 8.6"/>
 <path class="p" stroke-width="1.8" d="M8.6 2.6V9.2"/>
</g>
</defs>
<g class="p">
<path class="pw" d="M311.6 275.6C314 273.6 318 273.8 321 277C324 280.4 324.8 286.4 323.6 290L308 303C306.6 304.2 305.8 305.6 305.6 307L318 348C319.4 352 319.6 355 319 358C318 363 316.6 367 314 370C311 374 306.6 377.4 302 380L286 390.6C285 393 285 397 285.4 400C285.6 404.6 281 407.8 275 407.6C268 407.2 262 403.4 261.6 398L262.4 385C264 380 266.6 376.6 270 374L294 358C295.6 356 296.4 353.6 296 350L283.6 310C282.6 305 283.6 300 285 296C287 291.6 290 288.4 294 286Z"/>
<path d="M295 286.4C300.6 288.6 305.6 294.6 308 303"/>
<path d="M284 313.4C291 309.4 299 307.4 306 307"/>
<path d="M295.6 349.6C303 346.6 311 345 318 345.4"/>
<path d="M294 358C301 360.4 307 366.6 310 374.4"/>
<path d="M262.6 386C268 380 281 383.4 285.6 391"/>
<ellipse cx="273.4" cy="399" rx="12" ry="8.3" transform="rotate(8 273.4 399)"/>
<ellipse cx="273.8" cy="399.4" rx="9.4" ry="6.2" transform="rotate(8 273.8 399.4)"/>
</g>
<use href="#clamp" x="329.5" y="271"/>
<use href="#clamp" x="258.4" y="413.2"/>
<!-- ===== HOSE 7 ===== -->
<g class="p">
<path class="pw" d="M469 616.6L490 599C498 592 506 586.6 514 582L528 575.6C531 574.4 533.4 574 535.6 574.2C539.6 575 543.4 579 544.8 584C545.6 588 544.6 591.4 542 593.4L524 603C517 607 510 611.4 504 616.4L486 632.4C482 635.4 476 635.6 471.6 632C467 628 465.6 621 469 616.6Z"/>
<path d="M490.6 599C497 601.6 502 608.6 503.2 617"/>
<ellipse cx="476.4" cy="624.6" rx="10.4" ry="9.2" transform="rotate(35 476.4 624.6)"/>
<ellipse cx="476.8" cy="625" rx="8.2" ry="7" transform="rotate(35 476.8 625)"/>
</g>
<use href="#clamp" x="556.4" y="563"/>
<g class="p" stroke-width="1.7">
<path class="pw" stroke-width="1.7" d="M457.6 636L459.4 633L467.6 634.6L468 637.6L465 640"/>
<ellipse class="pw" stroke-width="1.8" cx="458.7" cy="645" rx="11" ry="9.2" transform="rotate(30 458.7 645)"/>
<ellipse cx="459.3" cy="646.2" rx="9.6" ry="7.2" transform="rotate(30 459.3 646.2)" stroke-width="1.3"/>
<path d="M465.4 634.4L465.8 638.6" stroke-width="2.4"/>
</g>

<!-- ===== RESERVOIR TANK (9) ===== -->
<g class="p">
<path class="pw" d="M693.6 726C698 723.6 704 721.6 710.4 720.6L719 718.4L728 722L745 726.4L768 732.4C770.6 733.2 772 734.6 772.2 736.6L773.6 776.4C773.6 779.6 772 781.8 769.6 782.8L731.2 792.4L713 797C706 797 699.6 796 696 794C692.6 791.6 690.6 789 689.6 786C687.6 779 686.4 770 686.4 762C686.6 753 688 746 689.6 739.6C690.6 734 692 729.6 693.6 726Z"/>
<!-- front/side ridge -->
<path d="M724 726.8C731 729 738 734 740.8 741.2C741 748 739.6 755 737.6 762C736 768 733.6 773 731.2 778L729.6 792"/>
<path d="M693.6 726C700 729.4 712 729.6 724 726.8"/>
<!-- notch at bottom -->
<path d="M702.4 790.4C702 785 702.6 781 704 778C705.4 774.6 707.6 771.6 710 770.4C712.6 772 714.6 775 716 778L728 779.6L728.4 790"/>
<path d="M716 778V789M720.6 778.6V790.6"/>
<path d="M704 792.4C708 794 712 794.4 716 793.4M708 796L716 794.8"/>
<circle cx="710.4" cy="795" r="1.3"/>
<!-- filler neck -->
<path class="pw" d="M711.4 719.4V715.6C712 713 716 712 720.6 712C725 712 729 713.2 729.6 715.6V720.6C728 723 724 723.8 720.6 723.8C716 723.8 712.4 722 711.4 719.4Z"/>
<ellipse cx="720.5" cy="715.6" rx="9.1" ry="3.4"/>
<ellipse cx="720.5" cy="715.6" rx="6.6" ry="2.2"/>
<path d="M726 713.4C726 709 729 706.4 731.4 708C733.4 709.6 733.4 713.6 732.6 717.4M728.6 714.4C728.6 711.4 730 710 731 710.6"/>
<!-- small slot on top right -->
<path d="M745.6 728.4L755 731.6M746 730.4L754.6 733.4"/>
</g>
<text transform="translate(743.4 749.4) rotate(-9) skewX(-8)" font-size="7.2" font-weight="bold" fill="#111" stroke="#111" stroke-width=".3" textLength="13.6" lengthAdjust="spacingAndGlyphs">MAX</text>
<text transform="translate(754.4 775) rotate(-9) skewX(-8)" font-size="7.2" font-weight="bold" fill="#111" stroke="#111" stroke-width=".3" textLength="11" lengthAdjust="spacingAndGlyphs">MIN</text>
<!-- bolts near tank -->
<g class="p">
<path class="pw" d="M707 703.4L711.6 704.6L710.8 708.4L706.2 707.2Z"/>
<path class="pw" d="M710.6 705.6L714.6 706.8L713.8 709.8L709.8 708.6Z"/>
<ellipse cx="708.6" cy="705.2" rx="2.8" ry="1.4" transform="rotate(15 708.6 705.2)"/>
<path class="pw" d="M719.6 812L725.6 811L726 814.2L720 815.2Z"/>
<ellipse class="pw" cx="727.4" cy="812.4" rx="1.8" ry="3.1" transform="rotate(-8 727.4 812.4)"/>
<ellipse class="pw" cx="729" cy="812.2" rx="1.6" ry="2.7" transform="rotate(-8 729 812.2)"/>
</g>
<!-- ===== CAP (10), TUBE (11), ELBOW (12) ===== -->
<g class="p">
<path class="pw" d="M725.4 674V690.4a4 1.6 0 0 0 8 0V674Z"/>
<path class="pw" d="M718.4 664.6C718.4 662.6 720.6 661.6 723.6 662L726.4 664H731.6L734.4 661.6C737.6 661.2 740.4 662.4 740.6 664.6L740.2 668.6C739 671.6 735 673.6 730 673.6C724.6 673.6 720 671.6 718.8 668.6Z"/>
<path d="M718.6 666.4C721 669.4 726 670.6 730 670.6C734.6 670.6 738.6 669.4 740.4 666.6M726.4 664C726.6 666 731.4 666 731.6 664M723.6 662C722.6 663.6 722.6 665.6 723.6 667M734.4 661.6C735.6 663.4 735.6 665.6 734.6 667"/>
<path d="M721 671.4C723 674.6 726 676 729.4 676C733 676 736.4 674.6 738.4 671.6"/>
<!-- elbow 12 -->
<path class="pw" d="M768.4 661.4L778.6 661.2C782.4 661.4 784.8 663.6 784.8 667V684.8a3.4 1.6 0 0 1 -6.8 0V669.4C778 668 777.2 667.2 775.8 667.2L768.4 667.4C767 667.2 766.6 665.6 766.6 664.4C766.6 663 767.2 661.6 768.4 661.4Z"/>
<path d="M768.4 661.4C769.8 662.6 769.8 666.2 768.4 667.4"/>
</g>

<g class="l">
<path d="M830.5 235V606.5M807.5 267.5H830.5M816 606.5H830.5"/>
<path stroke-width="2.1" d="M759 267.5H606L528.6 222.6"/>
<path stroke-width="2.2" d="M768 606.5H721.5L396.4 487"/>
<path d="M424.2 166V197.4"/>
<path d="M389 196.5L416.6 221.6"/>
<path d="M242.4 296.4H290"/>
<path d="M502.4 620V668"/>
<path d="M678.5 303.5L655.2 314"/>
<path d="M879.6 630.5V796.9M862 667H879.6M862 703.2H879.6M862 739.6H879.6"/>
<path d="M826 703.2H802.8L738 670.7"/>
<path d="M826 740H802L732.6 686"/>
<path d="M823.5 665.4H782"/>
<path d="M880.5 796H799.5L763.5 778"/>
<path d="M98 486.6H158"/>
<path d="M718.5 408.6H743.5"/>
<path d="M721.5 556H743.5"/>
<path d="M452 164V186"/>
<path d="M200.6 443V473"/>
<path d="M693.5 813.4H719"/>
</g>
<path fill="#111" stroke="#111" stroke-width="0.45" vector-effect="non-scaling-stroke" d="M763 0H583V1147Q518 1085 412.5 1023T223 930V1104Q373 1175 485 1275T644 1469H763Z" transform="translate(820.50 221.15) scale(0.01537 -0.01680)"/>
<text class="n" transform="translate(774.00 278.25) scale(0.915 1)">2</text>
<text class="n" transform="translate(782.00 616.75) scale(0.915 1)">3</text>
<text class="n" transform="translate(411.50 154.25) scale(0.915 1)">4</text>
<text class="n" transform="translate(371.80 186.15) scale(0.915 1)">5</text>
<text class="n" transform="translate(209.40 307.75) scale(0.915 1)">6</text>
<text class="n" transform="translate(494.40 703.75) scale(0.915 1)">7</text>
<text class="n" transform="translate(684.00 312.75) scale(0.915 1)">8</text>
<text class="n" transform="translate(870.50 616.75) scale(0.915 1)">9</text>
<path fill="#111" stroke="#111" stroke-width="0.45" vector-effect="non-scaling-stroke" d="M763 0H583V1147Q518 1085 412.5 1023T223 930V1104Q373 1175 485 1275T644 1469H763Z" transform="translate(823.60 716.75) scale(0.01537 -0.01680)"/>
<text class="n" transform="translate(841.20 716.75) scale(0.915 1)">0</text>
<path fill="#111" stroke="#111" stroke-width="0.45" vector-effect="non-scaling-stroke" d="M763 0H583V1147Q518 1085 412.5 1023T223 930V1104Q373 1175 485 1275T644 1469H763Z" transform="translate(823.60 755.75) scale(0.01537 -0.01680)"/>
<path fill="#111" stroke="#111" stroke-width="0.45" vector-effect="non-scaling-stroke" d="M763 0H583V1147Q518 1085 412.5 1023T223 930V1104Q373 1175 485 1275T644 1469H763Z" transform="translate(841.20 755.75) scale(0.01537 -0.01680)"/>
<path fill="#111" stroke="#111" stroke-width="0.45" vector-effect="non-scaling-stroke" d="M763 0H583V1147Q518 1085 412.5 1023T223 930V1104Q373 1175 485 1275T644 1469H763Z" transform="translate(823.60 676.35) scale(0.01537 -0.01680)"/>
<text class="n" transform="translate(841.20 676.35) scale(0.915 1)">2</text>
<path fill="#111" stroke="#111" stroke-width="0.45" vector-effect="non-scaling-stroke" d="M763 0H583V1147Q518 1085 412.5 1023T223 930V1104Q373 1175 485 1275T644 1469H763Z" transform="translate(54.60 500.25) scale(0.01537 -0.01680)"/>
<text class="n" transform="translate(72.20 500.25) scale(0.915 1)">3</text>
<path fill="#111" stroke="#111" stroke-width="0.45" vector-effect="non-scaling-stroke" d="M763 0H583V1147Q518 1085 412.5 1023T223 930V1104Q373 1175 485 1275T644 1469H763Z" transform="translate(675.20 424.85) scale(0.01537 -0.01680)"/>
<text class="n" transform="translate(692.80 424.85) scale(0.915 1)">4</text>
<path fill="#111" stroke="#111" stroke-width="0.45" vector-effect="non-scaling-stroke" d="M763 0H583V1147Q518 1085 412.5 1023T223 930V1104Q373 1175 485 1275T644 1469H763Z" transform="translate(678.00 568.35) scale(0.01537 -0.01680)"/>
<text class="n" transform="translate(695.60 568.35) scale(0.915 1)">4</text>
<text class="q" x="445.8" y="151.5" textLength="88.6" lengthAdjust="spacingAndGlyphs">Q1400816FD</text>
<text class="q" x="593.3" y="199.5" textLength="88.6" lengthAdjust="spacingAndGlyphs">Q1400816FD</text>
<text class="q" x="296.3" y="247.5" textLength="53" lengthAdjust="spacingAndGlyphs">Q67645</text>
<text class="q" x="193.8" y="400.8" textLength="53" lengthAdjust="spacingAndGlyphs">Q67645</text>
<text class="q" x="73.5" y="434.8" textLength="133.4" lengthAdjust="spacingAndGlyphs">Q1460620FD(Q402)</text>
<text class="q" x="475.3" y="559" textLength="53" lengthAdjust="spacingAndGlyphs">Q67645</text>
<text class="q" x="607.3" y="709.5" textLength="88.2" lengthAdjust="spacingAndGlyphs">Q1460616FD</text>
<text class="q" x="540.2" y="819.5" textLength="132.8" lengthAdjust="spacingAndGlyphs">Q1460620FD(Q402)</text>

</svg>
<div id="bar"><svg width="1000" height="100" viewBox="0 0 1000 100" style="position:absolute;left:0;top:0" fill="#fff" font-size="42.3px">
<text transform="translate(182.10 68.80) scale(0.8514 1)">GREAT</text>
<text transform="translate(314.20 68.80) scale(0.9000 1)">WALL</text>
<text transform="translate(426.19 68.80) scale(0.8545 1)">-</text>
<text transform="translate(470.84 68.80) scale(0.9644 1)">30</text>
<text transform="translate(564.70 68.80) scale(0.8985 1)">00-K00</text>
<text transform="translate(735.00 68.80) scale(1.0000 1)">N</text>
<text transform="translate(773.36 68.80) scale(0.8182 1)">-</text>
<path d="M729 0H544V1233L171 1096V1264L700 1463H729V0Z" transform="translate(447.30 68.80) scale(0.02002 -0.02002)"/>
<path d="M729 0H544V1233L171 1096V1264L700 1463H729V0Z" transform="translate(517.50 68.80) scale(0.02002 -0.02002)"/>
<path d="M729 0H544V1233L171 1096V1264L700 1463H729V0Z" transform="translate(540.90 68.80) scale(0.02002 -0.02002)"/>
<path d="M729 0H544V1233L171 1096V1264L700 1463H729V0Z" transform="translate(795.60 68.80) scale(0.02002 -0.02002)"/>
</svg></div>
</body></html>
